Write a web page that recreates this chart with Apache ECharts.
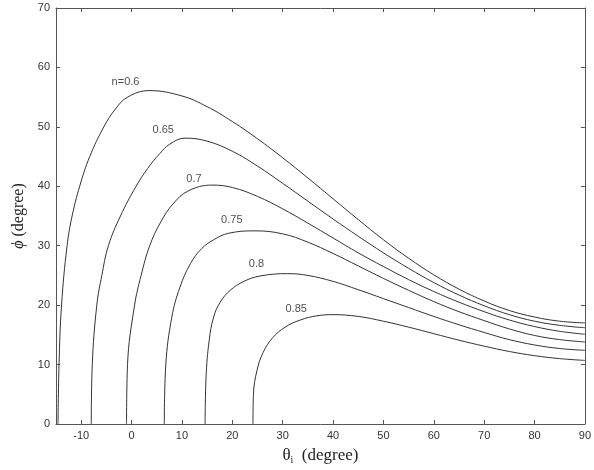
<!DOCTYPE html>
<html>
<head>
<meta charset="utf-8">
<script src="https://cdn.jsdelivr.net/npm/echarts@6/dist/echarts.min.js"></script>
<style>
html,body{margin:0;padding:0;background:#fff;}
#c{width:594px;height:470px;}
</style>
</head>
<body>
<div id="c"></div>
<script>
// Tick labels
const xTicks = [-10, 0, 10, 20, 30, 40, 50, 60, 70, 80, 90];
const yTicks = [0, 10, 20, 30, 40, 50, 60, 70];

// Curves: [theta_i (deg), phi (deg)]
const n060 = [[-14.6,0],[-14.4,10],[-13.9,20],[-12.8,30],[-11.8,35],[-10.3,40],[-8.3,45],[-5.5,50],[-3.2,53],[-0.8,55],[3.5,56.1],[10,55.2],[15,53.4],[20,50.9],[25,48.0],[30,44.8],[35,41.4],[40,37.9],[45,34.4],[50,31.0],[55,27.9],[60,25.1],[65,22.7],[70,20.7],[75,19.1],[80,18.0],[85,17.3],[90,17.0]];
const n065 = [[-8.0,0],[-7.8,10],[-6.9,20],[-5.9,25],[-4.6,30],[-2.2,35],[0.9,40],[3.2,43],[5.6,45.5],[7.6,47.1],[10.6,48.1],[15,47.6],[20,45.9],[25,43.4],[30,40.5],[35,37.5],[40,34.5],[45,31.6],[50,28.8],[55,26.2],[60,23.8],[65,21.7],[70,19.9],[75,18.4],[80,17.3],[85,16.6],[90,16.2]];
const n070 = [[-1.0,0],[-0.8,10],[0.6,20],[1.9,25],[3.6,30],[5.8,34],[8.2,37],[11.2,39.2],[16,40.2],[20,39.8],[25,38.3],[30,36.2],[35,33.8],[40,31.3],[45,28.8],[50,26.5],[55,24.3],[60,22.3],[65,20.5],[70,18.9],[75,17.5],[80,16.4],[85,15.6],[90,15.1]];
const n075 = [[6.5,0],[6.8,10],[8.0,18],[9.6,23],[11.7,27],[13.9,29.5],[16.3,31],[19.3,32.1],[24.5,32.5],[30,32.0],[35,30.6],[40,28.7],[45,26.6],[50,24.5],[55,22.5],[60,20.6],[65,18.9],[70,17.4],[75,16.0],[80,14.9],[85,14.2],[90,13.8]];
const n080 = [[14.6,0],[14.8,8],[15.4,14],[16.3,18],[17.6,20.5],[19.6,22.5],[22.3,24],[25.5,24.9],[31,25.3],[35,25.0],[40,24.0],[45,22.6],[50,21.1],[55,19.6],[60,18.1],[65,16.7],[70,15.4],[75,14.2],[80,13.3],[85,12.7],[90,12.4]];
const n085 = [[24.1,0],[24.2,5],[24.9,9],[26.1,12],[28.0,14.5],[30.5,16.3],[33.5,17.5],[36.8,18.2],[40,18.4],[45,18.1],[50,17.3],[55,16.3],[60,15.2],[65,14.1],[70,13.1],[75,12.2],[80,11.5],[85,11.0],[90,10.7]];

// Curve labels
const labelTexts = ['n=0.6', '0.65', '0.7', '0.75', '0.8', '0.85'];
const labelTheta = [-1.2, 6.3, 12.4, 19.9, 24.8, 32.7];
const labelPhi = [57.5, 49.4, 41.2, 34.4, 26.9, 19.3];

const curves = [n060, n065, n070, n075, n080, n085];

const chart = echarts.init(document.getElementById('c'), null, {renderer: 'canvas'});

const axisLineStyle = {color: '#555', width: 1};
const baseX = {
  type: 'value', min: -15, max: 90,
  splitLine: {show: false},
  axisLine: {show: true, onZero: false, lineStyle: axisLineStyle},
  axisTick: {show: true, inside: true, length: 4, customValues: xTicks, lineStyle: axisLineStyle}
};
const baseY = {
  type: 'value', min: 0, max: 70, interval: 10,
  splitLine: {show: false},
  axisLine: {show: true, onZero: false, lineStyle: axisLineStyle},
  axisTick: {show: true, inside: true, length: 4, lineStyle: axisLineStyle}
};

const series = curves.map(c => ({
  type: 'line',
  data: c,
  xAxisIndex: 0, yAxisIndex: 0,
  showSymbol: false,
  smooth: 0.4,
  lineStyle: {color: '#333', width: 1},
  silent: true,
  animation: false
}));
series.push({
  type: 'scatter',
  xAxisIndex: 0, yAxisIndex: 0,
  symbolSize: 0,
  data: labelTexts.map((t, i) => [labelTheta[i], labelPhi[i], t]),
  label: {
    show: true, position: 'inside',
    formatter: p => p.data[2],
    fontFamily: 'Liberation Sans, Arial, sans-serif',
    fontSize: 11, color: '#222'
  },
  animation: false
});

chart.setOption({
  animation: false,
  backgroundColor: '#fff',
  grid: {left: 56, right: 7, top: 8, bottom: 41, containLabel: false},
  xAxis: [
    Object.assign({}, baseX, {
      position: 'bottom',
      axisLabel: {show: true, customValues: xTicks, margin: 6, fontFamily: 'Liberation Sans, Arial, sans-serif', fontSize: 11, color: '#333'},
      name: '{t|θ}{s|i}{t|  (degree)}',
      nameLocation: 'middle',
      nameGap: 23,
      nameTextStyle: {
        rich: {
          t: {fontFamily: 'Liberation Serif, Times New Roman, serif', fontSize: 17, color: '#222'},
          s: {fontFamily: 'Liberation Serif, Times New Roman, serif', fontSize: 10, color: '#222', verticalAlign: 'bottom', padding: [8, 0, 0, 0]}
        }
      }
    }),
    Object.assign({}, baseX, {position: 'top', axisLabel: {show: false}})
  ],
  yAxis: [
    Object.assign({}, baseY, {
      position: 'left',
      axisLabel: {show: true, margin: 6, fontFamily: 'Liberation Sans, Arial, sans-serif', fontSize: 11, color: '#333'},
      name: '{p|ϕ}{t| (degree)}',
      nameLocation: 'middle',
      nameRotate: 90,
      nameGap: 29,
      nameTextStyle: {
        rich: {
          p: {fontFamily: 'Liberation Serif, Times New Roman, serif', fontStyle: 'italic', fontSize: 16, color: '#222'},
          t: {fontFamily: 'Liberation Serif, Times New Roman, serif', fontSize: 16, color: '#222'}
        }
      }
    }),
    Object.assign({}, baseY, {position: 'right', axisLabel: {show: false}})
  ],
  series: series
});
</script>
</body>
</html>
